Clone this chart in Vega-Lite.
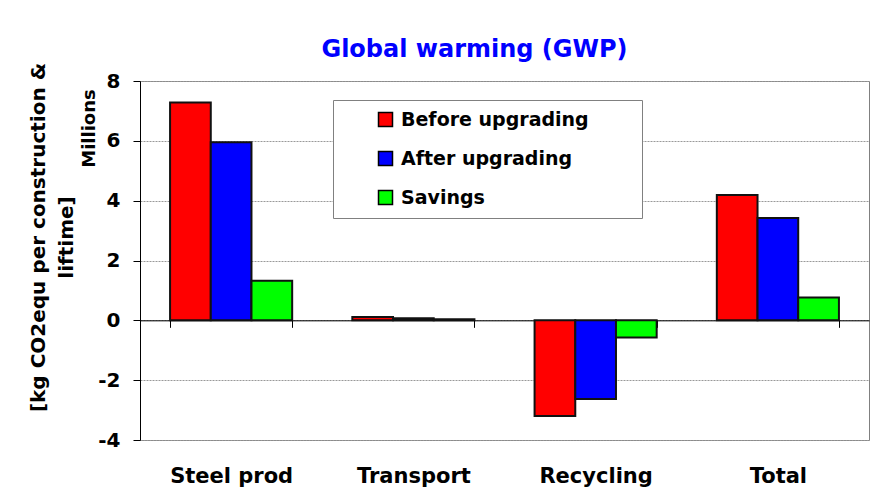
{
  "$schema": "https://vega.github.io/schema/vega-lite/v6.json",
  "width": 729,
  "height": 359,
  "autosize": {"type": "none"},
  "padding": {"left": 140, "top": 81, "right": 23, "bottom": 48},
  "background": "white",
  "title": {
    "text": "Global warming (GWP)",
    "color": "#0000FF",
    "font": "DejaVu Sans",
    "fontSize": 24,
    "fontWeight": "bold",
    "anchor": "middle",
    "baseline": "alphabetic",
    "dx": -30,
    "offset": -19
  },
  "data": {
    "values": [
      {"stage": "Steel prod", "scenario": "Before upgrading", "value": 7.28},
      {"stage": "Steel prod", "scenario": "After upgrading", "value": 5.95},
      {"stage": "Steel prod", "scenario": "Savings", "value": 1.32},
      {"stage": "Transport", "scenario": "Before upgrading", "value": 0.11},
      {"stage": "Transport", "scenario": "After upgrading", "value": 0.07},
      {"stage": "Transport", "scenario": "Savings", "value": 0.04},
      {"stage": "Recycling", "scenario": "Before upgrading", "value": -3.2},
      {"stage": "Recycling", "scenario": "After upgrading", "value": -2.63},
      {"stage": "Recycling", "scenario": "Savings", "value": -0.57},
      {"stage": "Total", "scenario": "Before upgrading", "value": 4.19},
      {"stage": "Total", "scenario": "After upgrading", "value": 3.42},
      {"stage": "Total", "scenario": "Savings", "value": 0.76}
    ]
  },
  "layer": [
    {
      "mark": {"type": "bar", "stroke": "#111111", "strokeWidth": 2},
      "encoding": {
        "x": {
          "field": "stage",
          "type": "nominal",
          "sort": ["Steel prod", "Transport", "Recycling", "Total"],
          "scale": {"paddingInner": 0.33, "paddingOuter": 0.165},
          "axis": {
            "orient": "bottom",
            "offset": -119.67,
            "title": null,
            "labelAngle": 0,
            "labelFont": "DejaVu Sans",
            "labelFontWeight": "bold",
            "labelFontSize": 21,
            "labelColor": "black",
            "labelPadding": 138,
            "tickBand": "extent",
            "tickSize": 7,
            "tickColor": "black",
            "domainColor": "black",
            "grid": false
          }
        },
        "xOffset": {
          "field": "scenario",
          "type": "nominal",
          "sort": ["Before upgrading", "After upgrading", "Savings"],
          "scale": {"paddingInner": 0, "paddingOuter": 0}
        },
        "y": {
          "field": "value",
          "type": "quantitative",
          "scale": {"domain": [-4, 8], "nice": false},
          "axis": {
            "values": [-4, -2, 0, 2, 4, 6, 8],
            "labelExpr": "'' + datum.value",
            "labelFont": "DejaVu Sans",
            "labelFontWeight": "bold",
            "labelFontSize": 20,
            "labelColor": "black",
            "labelPadding": 13,
            "tickSize": 7,
            "tickColor": "black",
            "domainColor": "black",
            "gridColor": "#999999",
            "gridDash": [2, 1],
            "title": ["[kg CO2equ per construction &", "liftime]"],
            "titleFont": "DejaVu Sans",
            "titleFontWeight": "bold",
            "titleFontSize": 20,
            "titleColor": "black",
            "titleAngle": -90,
            "titleAlign": "center",
            "titleBaseline": "top",
            "titleLineHeight": 28,
            "titleX": -112,
            "titleY": 156
          }
        },
        "color": {
          "field": "scenario",
          "type": "nominal",
          "sort": ["Before upgrading", "After upgrading", "Savings"],
          "scale": {
            "domain": ["Before upgrading", "After upgrading", "Savings"],
            "range": ["#FF0000", "#0000FF", "#00FF00"]
          },
          "legend": {
            "orient": "none",
            "legendX": 193,
            "legendY": 19,
            "direction": "vertical",
            "fillColor": "white",
            "strokeColor": "#808080",
            "padding": 10,
            "symbolType": "square",
            "symbolSize": 196,
            "symbolStrokeColor": "black",
            "symbolStrokeWidth": 1.5,
            "symbolOpacity": 1,
            "symbolOffset": 33,
            "labelFont": "DejaVu Sans",
            "labelFontWeight": "bold",
            "labelFontSize": 19,
            "labelColor": "black",
            "labelOffset": 6,
            "labelLimit": 400,
            "rowPadding": 18,
            "title": "\u2003",
            "titleOrient": "right",
            "titleFontSize": 30,
            "titlePadding": 43
          }
        }
      }
    },
    {
      "mark": {"type": "rule", "opacity": 0},
      "encoding": {
        "y": {
          "datum": 0,
          "type": "quantitative",
          "axis": {
            "orient": "left",
            "labels": false,
            "ticks": false,
            "domain": false,
            "grid": false,
            "title": "Millions",
            "titleFont": "DejaVu Sans",
            "titleFontWeight": "bold",
            "titleFontSize": 18,
            "titleColor": "black",
            "titleAngle": -90,
            "titleAlign": "center",
            "titleBaseline": "alphabetic",
            "titleX": -46,
            "titleY": 47
          }
        }
      }
    }
  ],
  "resolve": {"axis": {"y": "independent"}},
  "config": {
    "view": {"stroke": "#808080", "strokeWidth": 1}
  }
}
